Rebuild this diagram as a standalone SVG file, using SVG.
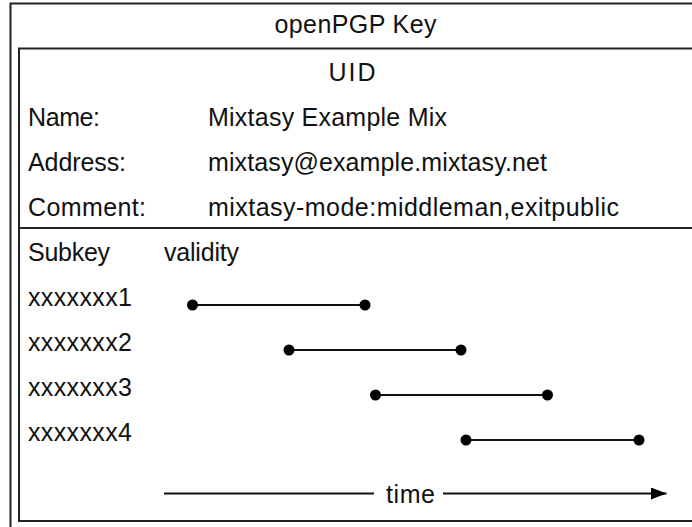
<svg xmlns="http://www.w3.org/2000/svg" width="692" height="527" viewBox="0 0 692 527">
  <defs>
    <style>
      .frame { fill: none; stroke: #222; stroke-width: 2; }
      .rule { stroke: #222; stroke-width: 2; }
      .t { font-family: "Liberation Sans", Arial, Helvetica, sans-serif; font-size: 25px; fill: #111; }
      .mid { text-anchor: middle; }
      .span { stroke: #111; stroke-width: 2; }
      .dot { fill: #000; }
    </style>
    <marker id="arrow" markerUnits="userSpaceOnUse" markerWidth="16" markerHeight="14" refX="15.5" refY="6" orient="auto">
      <path d="M0,0 L15.5,6 L0,12 Z" fill="#000"/>
    </marker>
  </defs>

  <rect width="692" height="527" fill="#fff"/>

  <!-- outer key box, open to the right and below -->
  <g id="openpgp-key">
    <rect class="frame" x="10.5" y="3.5" width="720" height="560"/>
    <text class="t mid" x="355.5" y="33" textLength="162" lengthAdjust="spacing">openPGP Key</text>
  </g>

  <!-- user id block -->
  <g id="uid">
    <rect class="frame" x="19" y="48.5" width="700" height="472.5"/>
    <text class="t mid" x="352" y="81" textLength="47" lengthAdjust="spacing">UID</text>
    <text class="t" x="28" y="126" textLength="72" lengthAdjust="spacing">Name:</text>
    <text class="t" x="208" y="126" textLength="239" lengthAdjust="spacing">Mixtasy Example Mix</text>
    <text class="t" x="28" y="171" textLength="98" lengthAdjust="spacing">Address:</text>
    <text class="t" x="208" y="171" textLength="339" lengthAdjust="spacing">mixtasy@example.mixtasy.net</text>
    <text class="t" x="28" y="216" textLength="118" lengthAdjust="spacing">Comment:</text>
    <text class="t" x="208" y="216" textLength="411" lengthAdjust="spacing">mixtasy-mode:middleman,exitpublic</text>
    <line class="rule" x1="19" y1="228" x2="700" y2="228"/>
  </g>

  <!-- subkey table -->
  <g id="subkeys">
    <text class="t" x="28" y="261" textLength="82" lengthAdjust="spacing">Subkey</text>
    <text class="t" x="164" y="261" textLength="75" lengthAdjust="spacing">validity</text>
    <g id="subkey-1">
      <text class="t" x="28" y="306" textLength="104" lengthAdjust="spacing">xxxxxxx1</text>
    </g>
    <g id="subkey-2">
      <text class="t" x="28" y="351" textLength="104" lengthAdjust="spacing">xxxxxxx2</text>
    </g>
    <g id="subkey-3">
      <text class="t" x="28" y="396" textLength="104" lengthAdjust="spacing">xxxxxxx3</text>
    </g>
    <g id="subkey-4">
      <text class="t" x="28" y="441" textLength="104" lengthAdjust="spacing">xxxxxxx4</text>
    </g>
  </g>

  <!-- validity intervals and time axis -->
  <g id="connectors">
    <line class="span" x1="192.5" y1="305" x2="365" y2="305"/>
    <circle class="dot" cx="192.5" cy="305" r="5.5"/>
    <circle class="dot" cx="365" cy="305" r="5.5"/>

    <line class="span" x1="289" y1="350" x2="461" y2="350"/>
    <circle class="dot" cx="289" cy="350" r="5.5"/>
    <circle class="dot" cx="461" cy="350" r="5.5"/>

    <line class="span" x1="375.5" y1="395" x2="547.5" y2="395"/>
    <circle class="dot" cx="375.5" cy="395" r="5.5"/>
    <circle class="dot" cx="547.5" cy="395" r="5.5"/>

    <line class="span" x1="466" y1="440" x2="639" y2="440"/>
    <circle class="dot" cx="466" cy="440" r="5.5"/>
    <circle class="dot" cx="639" cy="440" r="5.5"/>

    <line class="span" x1="164" y1="493.5" x2="374" y2="493.5"/>
    <text class="t" x="386" y="503" textLength="49" lengthAdjust="spacing">time</text>
    <line class="span" x1="443" y1="493.5" x2="666.5" y2="493.5" marker-end="url(#arrow)"/>
  </g>
</svg>
